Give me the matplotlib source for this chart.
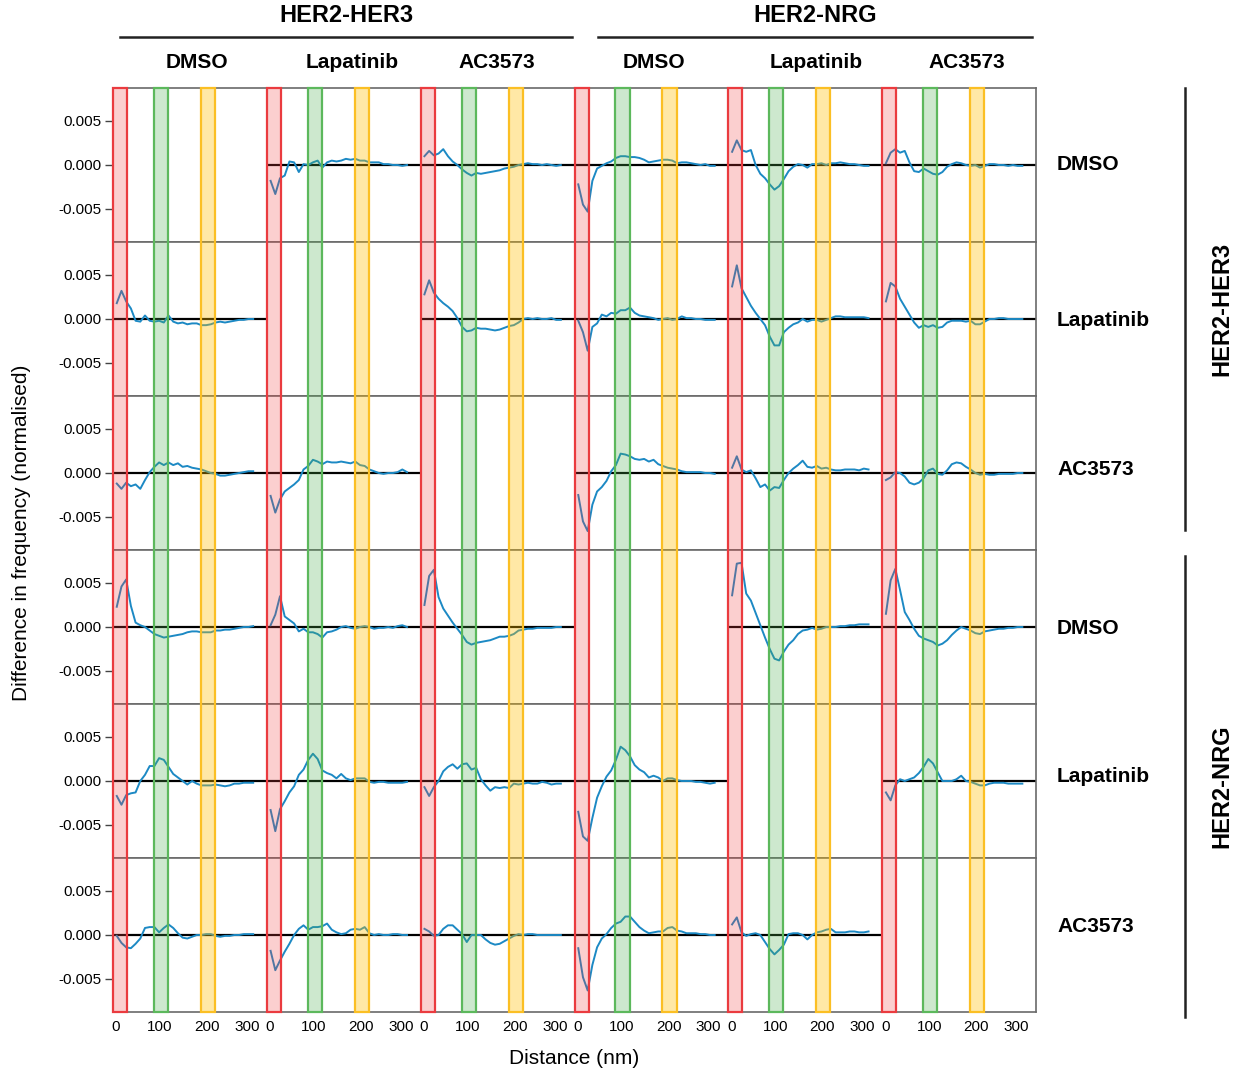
import matplotlib
matplotlib.use("Agg")
import matplotlib.pyplot as plt
from matplotlib.patches import Rectangle
from matplotlib.lines import Line2D
from matplotlib.transforms import blended_transform_factory, ScaledTranslation

plt.rcParams['font.family'] = ['Liberation Sans', 'DejaVu Sans']

# --- etiquetas ---
pairs = ["HER2-HER3", "HER2-NRG"]
treatments = ["DMSO", "Lapatinib", "AC3573"]

# distancia (nm) de cada punto de las curvas
distance = [8, 18, 28, 38, 48, 58, 68, 78, 88, 98, 108, 118, 128, 138, 148,
            158, 168, 178, 188, 198, 208, 218, 228, 238, 248, 258, 268, 278, 288, 298]

# bandas de distancia (nm)
band_red = (0, 30)
band_green = (87, 117)
band_yellow = (187, 217)

# valores en unidades de 1e-3 (fila = condicion de la fila, columna = condicion de la columna)
SCALE = 1e-3

# fila HER2-HER3 DMSO
h3dmso_vs_h3lap = [-1.8, -3.3, -1.5, -1.2, 0.4, 0.3, -0.8, 0.1, 0.0, 0.3, 0.5, -0.3, 0.3, 0.5, 0.4,
                   0.5, 0.7, 0.6, 0.7, 0.5, 0.5, 0.3, 0.3, 0.3, 0.1, 0.1, 0.0, 0.0, -0.1, 0.0]
h3dmso_vs_h3ac = [1.0, 1.6, 1.1, 1.3, 1.8, 1.0, 0.4, 0.0, -0.5, -0.9, -1.2, -0.9, -1.0, -0.9, -0.8,
                  -0.7, -0.6, -0.4, -0.3, -0.2, 0.0, 0.1, 0.2, 0.1, 0.1, 0.0, 0.1, 0.0, -0.1, 0.0]
h3dmso_vs_nrgdmso = [-2.2, -4.5, -5.3, -1.8, -0.4, -0.1, 0.2, 0.4, 0.8, 1.0, 1.0, 0.9, 0.9, 0.8, 0.6,
                     0.3, 0.4, 0.5, 0.6, 0.6, 0.5, 0.2, 0.3, 0.3, 0.2, 0.1, 0.0, 0.1, -0.1, -0.1]
h3dmso_vs_nrglap = [1.5, 2.8, 1.7, 1.5, 1.7, 0.0, -1.0, -1.5, -2.2, -2.8, -2.4, -1.6, -0.7, -0.2, 0.1,
                    0.0, -0.3, 0.1, 0.1, 0.2, 0.0, 0.2, 0.2, 0.3, 0.2, 0.1, 0.1, 0.0, -0.1, -0.1]
h3dmso_vs_nrgac = [0.2, 1.4, 1.8, 1.4, 1.6, 0.3, -0.7, -0.8, -0.4, -0.7, -1.0, -1.1, -0.8, -0.2, 0.1,
                   0.3, 0.2, 0.0, -0.1, 0.0, -0.3, -0.1, 0.1, 0.1, 0.0, 0.0, -0.1, 0.0, -0.1, -0.1]

# fila HER2-HER3 Lapatinib
h3lap_vs_h3dmso = [1.8, 3.2, 2.0, 1.2, -0.2, -0.3, 0.4, -0.2, -0.3, -0.2, -0.4, 0.4, -0.3, -0.5, -0.4,
                   -0.6, -0.5, -0.5, -0.7, -0.7, -0.6, -0.4, -0.3, -0.4, -0.3, -0.2, -0.1, -0.1, 0.0, 0.0]
h3lap_vs_h3ac = [2.8, 4.4, 3.0, 2.3, 1.8, 1.4, 0.9, 0.1, -0.9, -1.4, -1.3, -1.0, -1.1, -1.1, -1.2,
                 -1.3, -1.2, -1.0, -0.8, -0.7, -0.4, 0.0, 0.1, 0.0, 0.1, 0.0, 0.0, 0.1, -0.1, -0.1]
h3lap_vs_nrgdmso = [-0.2, -1.5, -3.6, -0.9, -0.5, 0.5, 0.3, 0.7, 0.6, 1.0, 1.0, 1.3, 0.7, 0.4, 0.3,
                    0.2, 0.1, -0.1, 0.0, 0.1, -0.1, 0.0, 0.3, 0.1, 0.1, 0.0, 0.0, -0.1, -0.1, -0.1]
h3lap_vs_nrglap = [3.7, 6.1, 3.5, 2.5, 1.5, 0.7, 0.0, -0.7, -2.0, -3.0, -3.0, -1.5, -1.0, -0.6, -0.4,
                   0.0, -0.3, -0.1, -0.1, -0.3, -0.1, 0.1, 0.3, 0.3, 0.2, 0.2, 0.2, 0.2, 0.2, 0.1]
h3lap_vs_nrgac = [2.0, 4.1, 3.7, 2.3, 1.4, 0.5, -0.4, -1.0, -0.7, -0.9, -0.7, -1.0, -0.9, -0.4, -0.2,
                  -0.2, -0.2, -0.3, -0.2, -0.6, -0.6, -0.3, 0.0, 0.0, 0.1, 0.1, 0.0, 0.0, 0.0, 0.0]

# fila HER2-HER3 AC3573
h3ac_vs_h3dmso = [-1.2, -1.8, -1.1, -1.5, -1.3, -1.8, -0.8, 0.1, 0.7, 1.2, 0.9, 1.2, 0.9, 1.1, 0.7,
                  0.8, 0.6, 0.5, 0.4, 0.2, 0.0, -0.1, -0.3, -0.3, -0.2, -0.1, 0.0, 0.1, 0.2, 0.2]
h3ac_vs_h3lap = [-2.6, -4.5, -3.0, -2.1, -1.7, -1.3, -0.8, 0.4, 0.8, 1.5, 1.3, 1.0, 1.3, 1.2, 1.2,
                 1.3, 1.2, 1.1, 1.3, 0.9, 0.8, 0.4, 0.2, 0.0, -0.1, 0.0, 0.0, 0.1, 0.4, 0.1]
h3ac_vs_nrgdmso = [-2.5, -5.5, -6.6, -3.6, -2.1, -1.6, -0.9, 0.2, 0.9, 2.2, 2.1, 1.9, 1.6, 1.5, 1.6,
                   1.3, 1.5, 1.0, 0.8, 0.6, 0.5, 0.4, 0.2, 0.1, 0.1, 0.1, 0.1, 0.0, 0.0, -0.1]
h3ac_vs_nrglap = [0.6, 1.9, 0.4, 0.1, 0.3, -0.6, -1.6, -1.3, -2.0, -1.6, -1.7, -0.8, 0.0, 0.5, 0.9,
                  1.4, 0.7, 0.6, 0.8, 0.5, 0.6, 0.4, 0.3, 0.3, 0.4, 0.4, 0.4, 0.3, 0.5, 0.4]
h3ac_vs_nrgac = [-0.8, -0.5, 0.1, 0.0, -0.4, -1.1, -1.3, -1.1, -0.6, 0.3, 0.5, -0.1, -0.2, 0.3, 1.0,
                 1.2, 1.1, 0.7, 0.4, 0.0, -0.2, -0.1, -0.2, -0.2, -0.1, -0.1, -0.1, -0.1, 0.0, 0.0]

# fila HER2-NRG DMSO
nrgdmso_vs_h3dmso = [2.3, 4.6, 5.4, 2.4, 0.5, 0.2, 0.0, -0.4, -0.8, -1.0, -1.2, -1.1, -1.0, -0.9, -0.8,
                     -0.6, -0.5, -0.5, -0.6, -0.6, -0.6, -0.4, -0.4, -0.3, -0.3, -0.2, -0.1, 0.0, 0.0, 0.1]
nrgdmso_vs_h3lap = [0.2, 1.4, 3.5, 1.2, 0.8, 0.4, -0.5, -0.2, -0.6, -0.6, -0.8, -1.2, -0.6, -0.5, -0.3,
                    0.0, 0.1, -0.1, -0.2, 0.0, 0.1, 0.0, -0.2, -0.1, -0.1, 0.0, -0.1, 0.1, 0.2, 0.0]
nrgdmso_vs_h3ac = [2.5, 5.8, 6.5, 3.4, 2.1, 1.3, 0.5, -0.2, -0.9, -1.7, -2.0, -1.8, -1.7, -1.6, -1.5,
                   -1.3, -1.1, -1.1, -1.0, -0.8, -0.4, -0.3, -0.2, -0.2, -0.1, -0.1, -0.1, -0.1, 0.0, 0.0]
nrgdmso_vs_nrglap = [3.6, 7.2, 7.3, 3.8, 3.0, 1.6, 0.2, -1.2, -2.5, -3.6, -3.8, -2.8, -2.0, -1.5, -0.8,
                     -0.4, -0.3, -0.1, -0.3, -0.2, 0.0, 0.0, 0.0, 0.1, 0.1, 0.2, 0.2, 0.3, 0.3, 0.3]
nrgdmso_vs_nrgac = [1.5, 5.3, 6.6, 4.2, 1.7, 0.8, -0.2, -1.0, -1.3, -1.5, -1.7, -2.1, -1.9, -1.5, -0.9,
                    -0.4, 0.0, -0.2, -0.4, -0.7, -0.8, -0.5, -0.4, -0.3, -0.2, -0.2, -0.1, -0.1, 0.0, 0.0]

# fila HER2-NRG Lapatinib
nrglap_vs_h3dmso = [-1.7, -2.7, -1.6, -1.4, -1.3, 0.0, 0.7, 1.7, 1.7, 2.6, 2.4, 1.6, 0.8, 0.4, 0.0,
                    -0.4, 0.0, -0.3, -0.5, -0.5, -0.5, -0.4, -0.5, -0.6, -0.5, -0.3, -0.3, -0.2, -0.2, -0.2]
nrglap_vs_h3lap = [-3.3, -5.7, -3.2, -2.3, -1.3, -0.6, 0.7, 1.3, 2.4, 3.1, 2.5, 1.2, 0.9, 0.7, 0.3,
                   0.8, 0.3, 0.1, 0.3, 0.3, 0.3, -0.1, -0.2, -0.1, -0.1, -0.2, -0.2, -0.2, -0.2, -0.1]
nrglap_vs_h3ac = [-0.7, -1.7, -0.7, 0.0, 1.1, 1.6, 1.9, 1.4, 1.9, 2.0, 1.3, 1.5, 0.2, -0.5, -1.1,
                  -0.7, -0.8, -0.7, -0.8, -0.3, -0.4, -0.3, -0.2, -0.3, -0.3, -0.1, -0.2, -0.4, -0.3, -0.3]
nrglap_vs_nrgdmso = [-3.5, -6.3, -6.8, -4.2, -1.9, -0.6, 0.5, 1.2, 2.4, 3.9, 3.5, 2.8, 1.8, 1.3, 1.0,
                     0.4, 0.6, 0.4, 0.0, 0.3, 0.3, 0.1, 0.0, 0.0, 0.0, -0.1, -0.1, -0.2, -0.3, -0.2]
nrglap_vs_nrgac = [-1.3, -2.2, -0.5, 0.2, 0.0, 0.2, 0.4, 0.9, 1.6, 2.5, 2.0, 1.0, 0.0, 0.0, 0.0,
                   0.2, 0.6, 0.0, -0.1, -0.3, -0.5, -0.5, -0.3, -0.2, -0.2, -0.2, -0.3, -0.3, -0.3, -0.3]

# fila HER2-NRG AC3573
nrgac_vs_h3dmso = [-0.1, -0.9, -1.4, -1.5, -1.0, -0.4, 0.8, 0.9, 0.9, 0.3, 0.8, 1.2, 0.8, 0.2, -0.3,
                   -0.4, -0.2, 0.0, 0.0, 0.1, 0.1, -0.1, -0.2, -0.1, -0.1, 0.0, 0.0, 0.1, 0.1, 0.1]
nrgac_vs_h3lap = [-1.8, -4.0, -2.9, -1.9, -1.0, 0.0, 0.7, 1.1, 0.6, 0.9, 0.9, 1.0, 1.3, 0.6, 0.3,
                  0.1, 0.2, 0.6, 0.7, 0.6, 0.9, 0.2, 0.0, 0.1, 0.0, 0.0, 0.1, 0.1, 0.0, 0.0]
nrgac_vs_h3ac = [0.7, 0.4, -0.1, 0.0, 0.7, 1.1, 1.1, 0.6, 0.1, -0.8, 0.0, 0.0, 0.0, -0.5, -0.9,
                 -1.1, -1.0, -0.7, -0.4, -0.1, 0.1, 0.0, 0.1, 0.1, 0.0, 0.0, 0.0, 0.0, 0.0, 0.0]
nrgac_vs_nrgdmso = [-1.5, -4.8, -6.3, -3.4, -1.4, -0.4, 0.1, 0.8, 1.3, 1.5, 2.1, 2.1, 1.5, 0.9, 0.5,
                    0.2, 0.3, 0.4, 0.4, 0.8, 0.9, 0.5, 0.4, 0.2, 0.2, 0.2, 0.1, 0.1, 0.0, 0.0]
nrgac_vs_nrglap = [1.2, 2.0, 0.3, -0.1, 0.1, 0.2, 0.0, -0.8, -1.6, -2.2, -1.7, -1.1, 0.1, 0.2, 0.2,
                   0.0, -0.5, 0.0, 0.3, 0.4, 0.6, 0.7, 0.3, 0.3, 0.3, 0.4, 0.4, 0.3, 0.3, 0.4]

grid = [
    [None, h3dmso_vs_h3lap, h3dmso_vs_h3ac, h3dmso_vs_nrgdmso, h3dmso_vs_nrglap, h3dmso_vs_nrgac],
    [h3lap_vs_h3dmso, None, h3lap_vs_h3ac, h3lap_vs_nrgdmso, h3lap_vs_nrglap, h3lap_vs_nrgac],
    [h3ac_vs_h3dmso, h3ac_vs_h3lap, None, h3ac_vs_nrgdmso, h3ac_vs_nrglap, h3ac_vs_nrgac],
    [nrgdmso_vs_h3dmso, nrgdmso_vs_h3lap, nrgdmso_vs_h3ac, None, nrgdmso_vs_nrglap, nrgdmso_vs_nrgac],
    [nrglap_vs_h3dmso, nrglap_vs_h3lap, nrglap_vs_h3ac, nrglap_vs_nrgdmso, None, nrglap_vs_nrgac],
    [nrgac_vs_h3dmso, nrgac_vs_h3lap, nrgac_vs_h3ac, nrgac_vs_nrgdmso, nrgac_vs_nrglap, None],
]

# --- figura ---
W, H = 1245, 1077
fig = plt.figure(figsize=(W / 100, H / 100), dpi=100)
L, R, B, T = 113 / W, 1036 / W, 1 - 1012 / H, 1 - 88 / H
gs = fig.add_gridspec(6, 6, left=L, right=R, bottom=B, top=T, wspace=0, hspace=0)

line_color = '#1c89c4'
axes = [[fig.add_subplot(gs[i, j]) for j in range(6)] for i in range(6)]

for i in range(6):
    for j in range(6):
        ax = axes[i][j]
        ax.set_xlim(0, 327)
        ax.set_ylim(-0.00875, 0.00875)
        for sp in ax.spines.values():
            sp.set_color('#6a6a6a')
            sp.set_linewidth(1.2)
        vals = grid[i][j]
        if vals is not None:
            ax.axhline(0, color='black', lw=1.6, zorder=2)
            ax.plot(distance, [v * SCALE for v in vals], color=line_color, lw=1.4, zorder=3)
        if j == 0:
            ax.set_yticks([0.005, 0.0, -0.005])
            ax.set_yticklabels(['0.005', '0.000', '-0.005'])
            ax.tick_params(axis='y', labelsize=11, length=6, width=1, color='#444', pad=2)
        else:
            ax.set_yticks([])
        if i == 5:
            ax.set_xticks([0, 100, 200, 300])
            labs = ax.set_xticklabels(['0', '100', '200', '300'])
            ax.tick_params(axis='x', labelsize=11, length=0, pad=6)
            # como en el original: "0" un poco a la derecha y "300" a la izquierda
            labs[0].set_transform(labs[0].get_transform() + ScaledTranslation(0.03, 0, fig.dpi_scale_trans))
            labs[3].set_transform(labs[3].get_transform() + ScaledTranslation(-0.07, 0, fig.dpi_scale_trans))
        else:
            ax.set_xticks([])

# bandas sobre cada columna completa
bands = [(band_red, (0.94, 0.25, 0.25, 0.25), '#ea3b3f'),
         (band_green, (0.30, 0.68, 0.31, 0.28), '#5cb85c'),
         (band_yellow, (1.0, 0.75, 0.0, 0.35), '#fbbf24')]
for j in range(6):
    tr = blended_transform_factory(axes[0][j].transData, fig.transFigure)
    for (x0, x1), fc, ec in bands:
        fig.add_artist(Rectangle((x0, B), x1 - x0, T - B, transform=tr,
                                 facecolor=fc, edgecolor=ec, lw=1.6, zorder=5))


def fx(px):
    return px / W


def fy(py):
    return 1 - py / H


# encabezados superiores
fig.text(fx(346), fy(15), pairs[0], ha='center', va='center', fontsize=17, fontweight='bold')
fig.text(fx(815), fy(15), pairs[1], ha='center', va='center', fontsize=17, fontweight='bold')
fig.add_artist(Line2D([fx(120), fx(572)], [fy(37), fy(37)], color='#222', lw=1.8))
fig.add_artist(Line2D([fx(598), fx(1032)], [fy(37), fy(37)], color='#222', lw=1.8))

col_x = [197, 352, 497, 654, 816, 967]
for k, x in enumerate(col_x):
    fig.text(fx(x), fy(63), treatments[k % 3], ha='center', va='center',
             fontsize=15, fontweight='bold')

# etiquetas a la derecha
row_y = [164, 320, 470, 628, 777, 926]
for k, y in enumerate(row_y):
    fig.text(fx(1057), fy(y), treatments[k % 3], ha='left', va='center',
             fontsize=15, fontweight='bold')

fig.add_artist(Line2D([fx(1185), fx(1185)], [fy(88), fy(530)], color='#222', lw=1.8))
fig.add_artist(Line2D([fx(1185), fx(1185)], [fy(556), fy(1017)], color='#222', lw=1.8))
fig.text(fx(1222), fy(309), pairs[0], ha='center', va='center', rotation=90,
         fontsize=17, fontweight='bold')
fig.text(fx(1222), fy(786), pairs[1], ha='center', va='center', rotation=90,
         fontsize=17, fontweight='bold')

# etiquetas de ejes
fig.text(fx(22), fy(533), 'Difference in frequency (normalised)', ha='center', va='center',
         rotation=90, fontsize=15)
fig.text(fx(574), fy(1059), 'Distance (nm)', ha='center', va='center', fontsize=15)

fig.savefig('out.png', dpi=100)
